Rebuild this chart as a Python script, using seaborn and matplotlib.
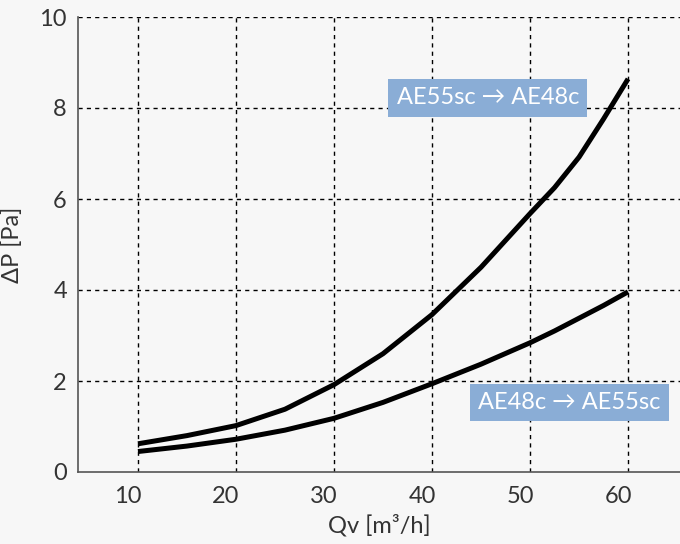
import seaborn as sns
import matplotlib.pyplot as plt
import matplotlib.transforms as mtransforms
import pandas as pd

# Flow rate [m3/h] and pressure drop [Pa]
qv = [10, 15, 20, 25, 30, 35, 40, 45, 50, 52.5, 55, 57.5, 60]
dp_55_to_48 = [0.62, 0.80, 1.02, 1.38, 1.92, 2.60, 3.46, 4.50, 5.68, 6.25, 6.92, 7.76, 8.64]
dp_48_to_55 = [0.45, 0.57, 0.72, 0.92, 1.18, 1.53, 1.94, 2.37, 2.84, 3.10, 3.38, 3.66, 3.96]
labels = ['AE55sc → AE48c', 'AE48c → AE55sc']
x_ticks = [10, 20, 30, 40, 50, 60]
y_ticks = [0, 2, 4, 6, 8, 10]

df = pd.DataFrame({
    'Qv': qv * 2,
    'dP': dp_55_to_48 + dp_48_to_55,
    'curve': [labels[0]] * len(qv) + [labels[1]] * len(qv),
})

sns.set_style('white')
plt.rcParams['font.family'] = ['Lato', 'DejaVu Sans']

fig = plt.figure(figsize=(6.8, 5.44), dpi=100, facecolor='#f7f7f7')
ax = fig.add_axes([78 / 680, 72 / 544, 602 / 680, 455 / 544])
ax.set_facecolor('#f7f7f7')

sns.lineplot(data=df, x='Qv', y='dP', hue='curve', palette=['black', 'black'],
             linewidth=3.6, legend=False, ax=ax, zorder=3,
             solid_joinstyle='round', solid_capstyle='butt')

ax.set_xlim(3.88, 65.3)
ax.set_ylim(0, 10)
ax.set_xticks(x_ticks)
ax.set_yticks(y_ticks)

# dashed grid
for x in x_ticks:
    ax.plot([x, x], [0, 10], color='black', lw=1.0, ls=(0, (3, 3)), zorder=1)
for y in y_ticks[1:]:
    ax.plot([3.88, 65.3], [y, y], color='black', lw=1.0, ls=(0, (3, 3)), zorder=1)

for side in ['top', 'right']:
    ax.spines[side].set_visible(False)
for side in ['left', 'bottom']:
    ax.spines[side].set_color('#555555')
    ax.spines[side].set_linewidth(1.2)

ax.tick_params(axis='both', length=0, labelsize=17, labelcolor='#333333')
ax.tick_params(axis='x', pad=10)
ax.tick_params(axis='y', pad=8)
for lab in ax.get_xticklabels():
    lab.set_transform(lab.get_transform() + mtransforms.ScaledTranslation(-10 / 100, 0, fig.dpi_scale_trans))

ax.set_xlabel('Qv [m³/h]', fontsize=17, color='#333333', labelpad=5)
ax.set_ylabel('ΔP [Pa]', fontsize=17, color='#333333', labelpad=12)

box = dict(boxstyle='square,pad=0.35', facecolor='#8aadd6', edgecolor='none')
ax.text(45.7, 8.22, labels[0], fontsize=17, color='white',
        ha='center', va='center', bbox=box, zorder=4)
ax.text(54.0, 1.53, labels[1], fontsize=17, color='white',
        ha='center', va='center', bbox=box, zorder=4)

fig.savefig('out.png', dpi=100, facecolor=fig.get_facecolor())
